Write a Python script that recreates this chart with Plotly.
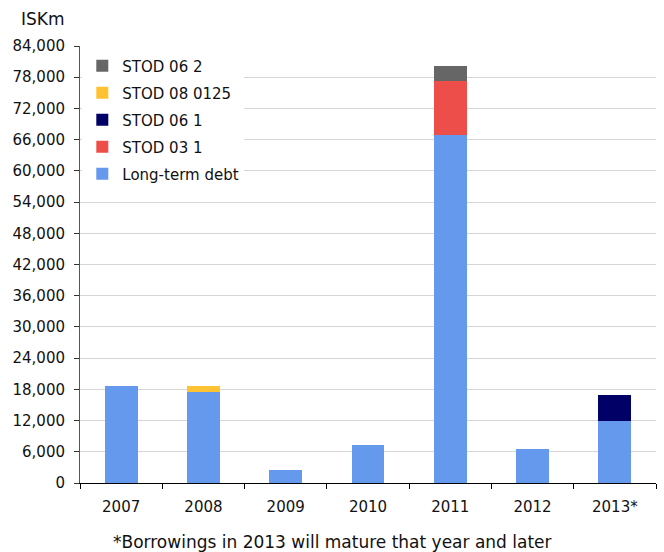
import plotly.graph_objects as go

# Maturity profile, ISK millions
years = ["2007", "2008", "2009", "2010", "2011", "2012", "2013*"]
long_term_debt = [18700, 17500, 2500, 7300, 66900, 6600, 12000]
stod_03_1 = [0, 0, 0, 0, 10300, 0, 0]
stod_06_1 = [0, 0, 0, 0, 0, 0, 5000]
stod_08_0125 = [0, 1200, 0, 0, 0, 0, 0]
stod_06_2 = [0, 0, 0, 0, 3000, 0, 0]

y_ticks = list(range(0, 84001, 6000))
y_tick_labels = [f"{v:,}" for v in y_ticks]

# stacked bottom to top; the legend lists them top to bottom
series = [
    ("Long-term debt", long_term_debt, "#6599EE"),
    ("STOD 03 1", stod_03_1, "#EE4E4A"),
    ("STOD 06 1", stod_06_1, "#000066"),
    ("STOD 08 0125", stod_08_0125, "#FFC233"),
    ("STOD 06 2", stod_06_2, "#666666"),
]

FONT = "DejaVu Sans"
TEXT = "#111111"

fig = go.Figure()
for i, (name, vals, color) in enumerate(series):
    fig.add_trace(go.Bar(
        x=years, y=vals, name=name, legendgroup=name,
        legendrank=1000 - i,
        marker=dict(color=color, line=dict(width=0)),
    ))

fig.update_layout(
    width=664, height=552,
    margin=dict(l=80, r=8, t=46, b=69),
    barmode="stack",
    bargap=0.6,
    paper_bgcolor="white",
    plot_bgcolor="white",
    font=dict(family=FONT, size=15, color=TEXT),
    showlegend=True,
    legend=dict(
        traceorder="grouped",
        x=0.004, y=0.992, xanchor="left", yanchor="top",
        bgcolor="white", borderwidth=0,
        font=dict(family=FONT, size=15, color=TEXT),
        itemsizing="constant",
        tracegroupgap=4.5,
        itemwidth=30,
    ),
    xaxis=dict(
        type="category",
        showline=True, linecolor="#000000", linewidth=1,
        ticks="outside", ticklen=5, tickcolor="#000000",
        tickson="boundaries",
        ticklabelstandoff=10,
        showgrid=False,
        tickfont=dict(family=FONT, size=15, color=TEXT),
    ),
    yaxis=dict(
        range=[0, 84000],
        tickvals=y_ticks, ticktext=y_tick_labels,
        showline=True, linecolor="#555555", linewidth=1,
        ticks="outside", ticklen=5, tickcolor="#333333",
        ticklabelstandoff=6,
        showgrid=True, gridcolor="#D6D6D6", gridwidth=1,
        zeroline=False,
        tickfont=dict(family=FONT, size=15, color=TEXT),
    ),
    annotations=[
        dict(text="ISKm", xref="paper", yref="paper", x=-0.106, y=1.062,
             xanchor="left", yanchor="middle", showarrow=False,
             font=dict(family=FONT, size=17, color=TEXT)),
        dict(text="*Borrowings in 2013 will mature that year and later",
             xref="paper", yref="paper", x=0.439, y=-0.134,
             xanchor="center", yanchor="middle", showarrow=False,
             font=dict(family=FONT, size=17, color=TEXT)),
    ],
)

fig.write_html("out.html")
